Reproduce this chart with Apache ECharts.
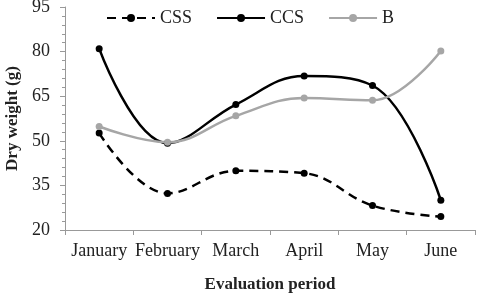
<!DOCTYPE html>
<html><head><meta charset="utf-8">
<script src="https://cdn.jsdelivr.net/npm/echarts@6/dist/echarts.min.js"></script>
<style>html,body{margin:0;padding:0;background:#fff}#c{width:480px;height:300px}</style>
</head><body><div id="c"></div>
<script>
const categories = ['January','February','March','April','May','June'];
const cssValues = [52.6, 32.3, 39.9, 39.1, 28.2, 24.5];
const ccsValues = [81.0, 49.2, 62.2, 71.8, 68.6, 30.0];
const bValues = [54.8, 49.5, 58.4, 64.4, 63.6, 80.2];
const yTicks = {min: 20, max: 95, interval: 15};

const font = '"Liberation Serif", "Times New Roman", serif';
const chart = echarts.init(document.getElementById('c'));
const mk = (name, data, color, type) => ({
  name, type: 'line', data, smooth: 0.4, symbol: 'circle', symbolSize: 7,
  lineStyle: {color, width: 2.5, type: type},
  itemStyle: {color}
});
chart.setOption({
  animation: false,
  textStyle: {fontFamily: font},
  grid: {left: 65, right: 5, top: 7, bottom: 70, containLabel: false, outerBoundsMode: 'none'},
  legend: {
    top: 4, left: 101, itemWidth: 48, itemHeight: 10, itemGap: 24,
    textStyle: {fontFamily: font, fontSize: 18, color: '#222'},
    data: ['CSS','CCS','B']
  },
  xAxis: {
    type: 'category', data: categories, boundaryGap: true,
    name: 'Evaluation period', nameLocation: 'middle', nameGap: 46,
    nameTextStyle: {fontFamily: font, fontSize: 17, fontWeight: 'bold', color: '#222'},
    axisLine: {lineStyle: {color: '#999', width: 1}},
    axisTick: {show: true, length: 5, lineStyle: {color: '#999'}},
    axisLabel: {fontFamily: font, fontSize: 18, color: '#222', margin: 12, interval: 0}
  },
  yAxis: {
    type: 'value', min: yTicks.min, max: yTicks.max, interval: yTicks.interval,
    name: 'Dry weight (g)', nameLocation: 'middle', nameGap: 43,
    nameTextStyle: {fontFamily: font, fontSize: 17, fontWeight: 'bold', color: '#222'},
    axisLine: {show: true, lineStyle: {color: '#999', width: 1}},
    axisTick: {show: true, length: 5, lineStyle: {color: '#999'}},
    minorTick: {show: true, splitNumber: 5, length: 3, lineStyle: {color: '#999'}},
    splitLine: {show: false},
    axisLabel: {fontFamily: font, fontSize: 18, color: '#222', margin: 15}
  },
  series: [
    mk('CSS', cssValues, '#000', [9, 6]),
    mk('CCS', ccsValues, '#000', 'solid'),
    mk('B', bValues, '#a6a6a6', 'solid')
  ]
});
</script></body></html>
